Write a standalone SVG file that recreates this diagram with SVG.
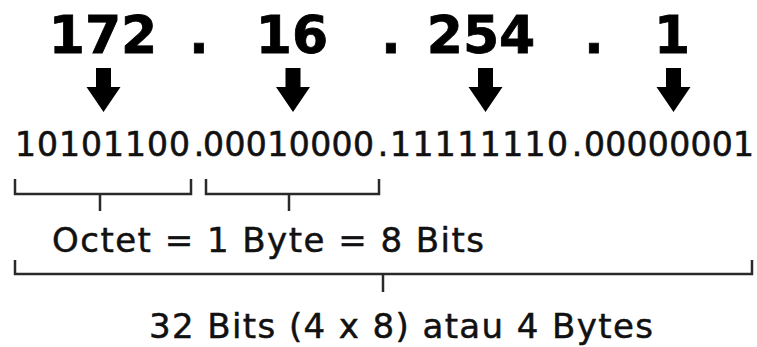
<svg xmlns="http://www.w3.org/2000/svg" width="757" height="347" viewBox="0 0 757 347">
<style>
.big{font-family:"DejaVu Sans",Verdana,sans-serif;font-weight:bold;font-size:52px;fill:#000;stroke:#000;stroke-width:0.8;text-anchor:middle}
.bin{font-family:"DejaVu Sans",Verdana,sans-serif;font-size:33px;fill:#111;stroke:#111;stroke-width:0.6}
.lbl{font-family:"DejaVu Sans",Verdana,sans-serif;font-size:34px;fill:#111;stroke:#111;stroke-width:0.5}
.br{fill:none;stroke:#2a2a2a;stroke-width:2.5;stroke-linejoin:miter}
.arr{fill:#000}
</style>
<defs>
<path id="arrow" class="arr" d="M-7.5,68 H7.5 V87 H17 L0,112 L-17,87 H-7.5 Z"/>
</defs>
<rect width="757" height="347" fill="#fff"/>
<g id="decimal">
<text class="big" x="103" y="53">172</text>
<text class="big" x="199" y="53">.</text>
<text class="big" x="292" y="53">16</text>
<text class="big" x="391" y="53">.</text>
<text class="big" x="481" y="53">254</text>
<text class="big" x="594" y="53">.</text>
<text class="big" x="672" y="53">1</text>
</g>
<g id="arrows">
<use href="#arrow" x="103.5"/>
<use href="#arrow" x="293"/>
<use href="#arrow" x="485.5"/>
<use href="#arrow" x="673.5"/>
</g>
<g id="binary">
<text class="bin" x="15" y="156" textLength="175">10101100</text>
<text class="bin" x="199" y="156" text-anchor="middle">.</text>
<text class="bin" x="203" y="156" textLength="171">00010000</text>
<text class="bin" x="383" y="156" text-anchor="middle">.</text>
<text class="bin" x="390" y="156" textLength="178">11111110</text>
<text class="bin" x="577" y="156" text-anchor="middle">.</text>
<text class="bin" x="584" y="156" textLength="170">00000001</text>
</g>
<g id="connectors">
<path class="br" d="M15,179 V194 H191 V179 M100,194 V211"/>
<path class="br" d="M206,179 V194 H379 V179 M289,194 V211"/>
<path class="br" d="M15,260 V274 H752 V260 M383,274 V292"/>
</g>
<g id="octet-label">
<text class="lbl" x="52" y="252" textLength="432">Octet = 1 Byte = 8 Bits</text>
</g>
<g id="total-label">
<text class="lbl" x="149" y="338" font-size="36" textLength="504">32 Bits (4 x 8) atau 4 Bytes</text>
</g>
</svg>
